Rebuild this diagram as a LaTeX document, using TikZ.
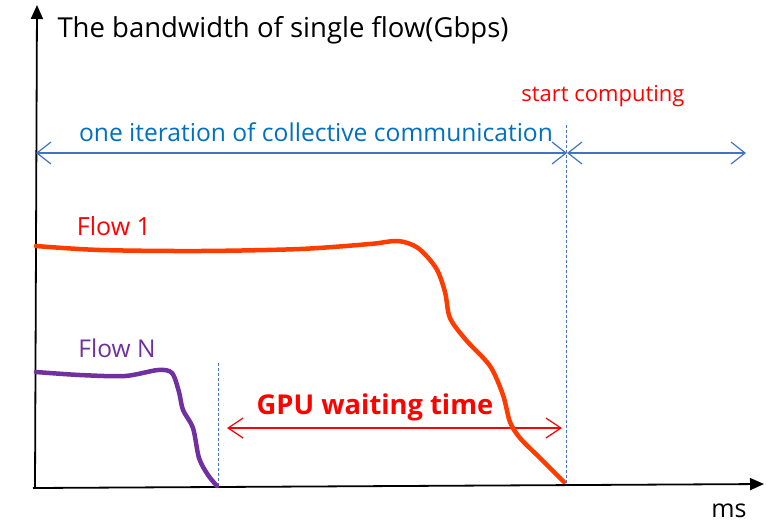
\documentclass[tikz,border=0pt]{standalone}
\usepackage{fontspec}
\setmainfont{Open Sans}
\usetikzlibrary{arrows.meta}
\definecolor{flowred}{RGB}{255,60,0}
\definecolor{flowpurple}{RGB}{112,48,160}
\definecolor{arrblue}{RGB}{68,114,196}
\definecolor{txtblue}{RGB}{0,112,192}
\definecolor{txtred}{RGB}{255,0,0}
\tikzset{
  axis/.style={line width=1.8pt,-{Triangle[length=14pt,width=12pt]}},
  spanarrow/.style={arrblue,line width=1.2pt,{Straight Barb[length=14pt,width=22pt]}-{Straight Barb[length=14pt,width=22pt]}},
  waitarrow/.style={txtred,line width=1.2pt,{Straight Barb[length=15pt,width=20pt]}-{Straight Barb[length=15pt,width=20pt]}},
  guide/.style={arrblue,line width=0.9pt,dashed,dash pattern=on 3pt off 2pt},
  curve/.style={line width=4.5pt,line cap=round,line join=round},
  lbl/.style={inner sep=0pt,anchor=center}
}
\begin{document}
\begin{tikzpicture}[x=1pt,y=-1pt]
\useasboundingbox (0,0) rectangle (783,523);
% axes
\coordinate (o) at (35,488);
\coordinate (ytip) at (37,5);
\coordinate (xtip) at (764,484);
\draw[axis] (o) -- (ytip);
\draw[axis] (33,488) -- (xtip);
\node[lbl] (ylabel) at (283,30) {\fontsize{27.5}{30}\selectfont The bandwidth of single flow(Gbps)};
\node[lbl] (xlabel) at (729,511) {\fontsize{25}{28}\selectfont ms};
% guides
\coordinate (g1top) at (566,125);
\coordinate (g1bot) at (566,485);
\coordinate (g2top) at (218,363);
\coordinate (g2bot) at (218,486);
\draw[guide] (g1top) -- (g1bot);
\draw[guide] (g2top) -- (g2bot);
% span arrows
\coordinate (s0) at (36,153);
\coordinate (s1) at (567,153);
\coordinate (s2) at (746,153);
\draw[spanarrow] (s0) -- (s1);
\draw[spanarrow] (s1) -- (s2);
\node[lbl,txtblue] (iter) at (316,132) {\fontsize{24.6}{28}\selectfont one iteration of collective communication};
\node[lbl,txtred] (start) at (603,96) {\fontsize{22}{26}\selectfont start computing};
% GPU waiting time
\coordinate (w0) at (227,428);
\coordinate (w1) at (562,428);
\draw[waitarrow] (w0) -- (w1);
\node[lbl,txtred] (gpu) at (375,407) {\fontsize{27.3}{30}\selectfont\bfseries GPU waiting time};
% flow labels
\node[lbl,txtred] (f1) at (114,226) {\fontsize{25}{28}\selectfont Flow 1};
\node[lbl,flowpurple] (fn) at (117,348) {\fontsize{24.5}{28}\selectfont Flow N};
% flow 1 curve
\draw[curve,flowred] plot[smooth,tension=0.5] coordinates {
 (36,246) (100,250) (200,251) (300,249) (370,244) (398,241) (418,248)
 (436,268) (445,292) (450,318) (466,340) (490,366) (503,395) (510,422)
 (520,438) (540,458) (564,482)};
% flow N curve
\draw[curve,flowpurple] plot[smooth,tension=0.5] coordinates {
 (36,372) (80,375) (125,376) (158,370) (172,373) (179,392) (183,410)
 (193,428) (199,458) (208,475) (217,486)};
\end{tikzpicture}
\end{document}
